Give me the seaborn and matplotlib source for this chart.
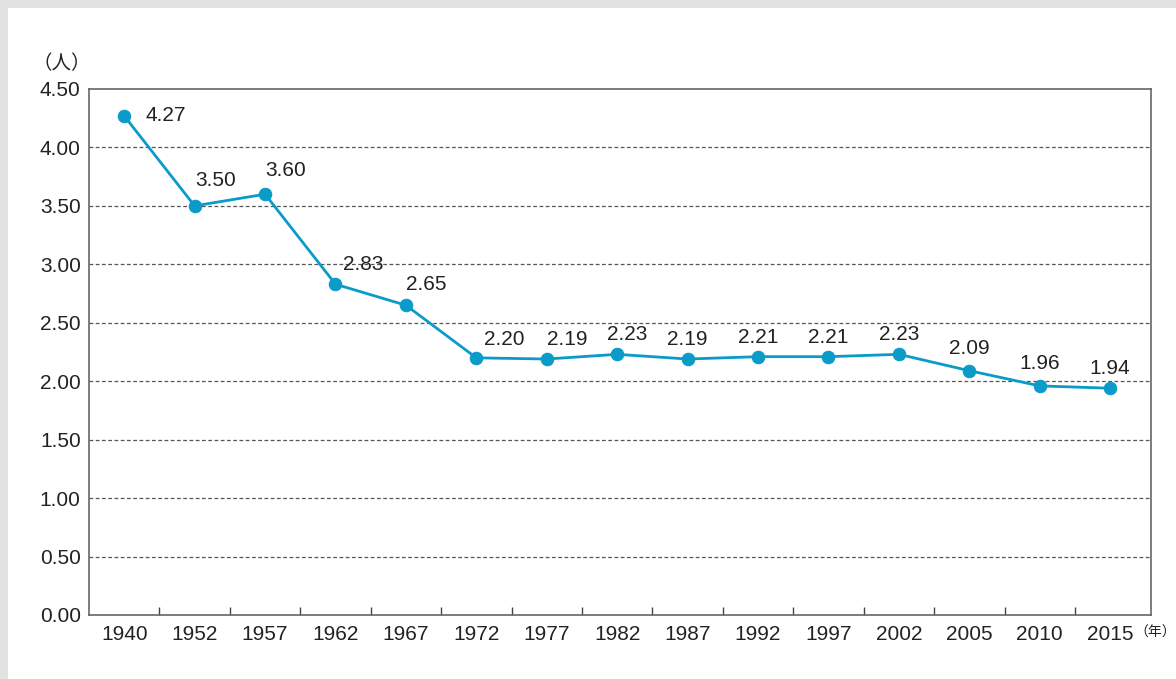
import numpy as np
import pandas as pd
import matplotlib.pyplot as plt
import seaborn as sns
from matplotlib.patches import Rectangle
from matplotlib.ticker import FixedLocator

# average household size (persons) by census year
years = ["1940", "1952", "1957", "1962", "1967", "1972", "1977", "1982",
         "1987", "1992", "1997", "2002", "2005", "2010", "2015"]
persons = [4.27, 3.50, 3.60, 2.83, 2.65, 2.20, 2.19, 2.23,
           2.19, 2.21, 2.21, 2.23, 2.09, 1.96, 1.94]
yticks = [0.0, 0.5, 1.0, 1.5, 2.0, 2.5, 3.0, 3.5, 4.0, 4.5]

# label offsets in points (layout only)
label_dx = [30, 15, 15, 20, 15, 20, 15, 7, 0, 0, 0, 0, 0, 0, 0]
label_dy = [0, 18, 17, 14, 15, 13, 14, 14, 14, 14, 14, 14, 16, 16, 14]

sns.set_style("white")
plt.rcParams["font.family"] = ["Liberation Sans", "Noto Sans CJK JP", "DejaVu Sans"]

fig = plt.figure(figsize=(11.76, 6.79), dpi=100)
fig.patch.set_facecolor("#e2e2e2")
fig.patches.append(Rectangle((8 / 1176, 0), 1, 1 - 8 / 679, transform=fig.transFigure,
                             facecolor="white", edgecolor="none", zorder=-5))

ax = fig.add_axes([89 / 1176, 1 - 615 / 679, (1151 - 89) / 1176, (615 - 89) / 679])
ax.set_zorder(2)

df = pd.DataFrame({"pos": np.arange(len(years)), "persons": persons})
color = "#0a9bc8"
sns.lineplot(data=df, x="pos", y="persons", ax=ax, color=color, linewidth=2,
             marker="o", markersize=9, markeredgecolor=color, zorder=3)

fs = 15
for i, v in enumerate(persons):
    ax.annotate(f"{v:.2f}", (i, v), xytext=(label_dx[i], label_dy[i]),
                textcoords="offset points", ha="center", va="center",
                fontsize=fs, color="#222222")

ax.set_xlim(-0.5, len(years) - 0.42)
ax.set_ylim(0, 4.5)
ax.set_yticks(yticks, [f"{t:.2f}" for t in yticks])
ax.set_xticks(np.arange(len(years)), years)
ax.xaxis.set_minor_locator(FixedLocator(np.arange(0.5, len(years) - 1, 1)))
ax.tick_params(axis="both", which="major", length=0, labelsize=fs,
               labelcolor="#222222", pad=7)
ax.tick_params(axis="y", which="major", pad=6)
ax.tick_params(axis="x", which="minor", bottom=True, direction="in", length=6,
               width=1, color="#444444")
ax.set_xlabel("")
ax.set_ylabel("")

for y in yticks[1:-1]:
    ax.axhline(y, color="#555555", linestyle=(0, (3, 2)), linewidth=0.9, zorder=1)

for s in ax.spines.values():
    s.set_color("#666666")
    s.set_linewidth(1.2)

fig.text(62 / 1176, 1 - 64 / 679, "（人）", ha="center", va="center",
         fontsize=14, color="#222222")
fig.text(1134 / 1176, 1 - 633 / 679, "（年）", ha="left", va="center",
         fontsize=10, color="#222222")

fig.savefig("out.png", dpi=100, facecolor=fig.get_facecolor())
